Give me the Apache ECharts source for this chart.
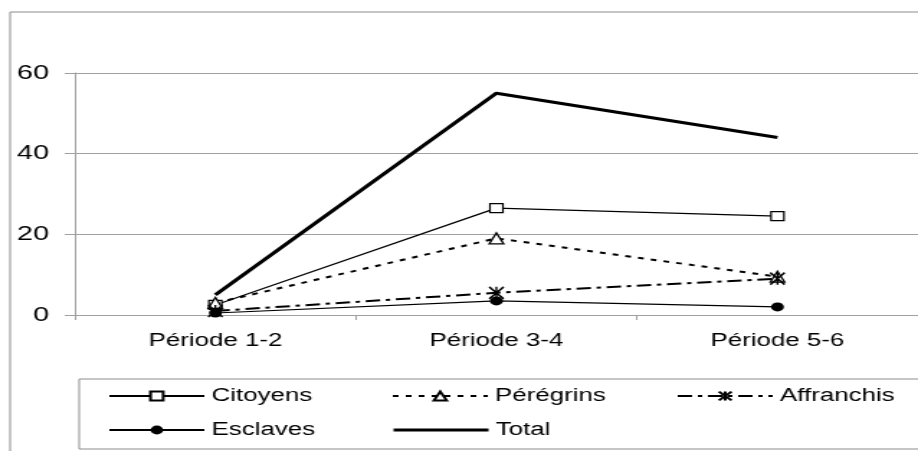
<!DOCTYPE html>
<html>
<head>
<meta charset="utf-8">
<script src="https://cdn.jsdelivr.net/npm/echarts@6/dist/echarts.min.js"></script>
<style>
html,body{margin:0;padding:0;background:#fff;overflow:hidden;}
#wrap{width:918px;height:451px;overflow:hidden;position:relative;}
#chart{width:638px;height:451px;transform:scaleX(1.4389);transform-origin:0 0;position:absolute;left:0;top:0;}
</style>
</head>
<body>
<div id="wrap"><div id="chart"></div></div>
<script>
const categories = ['Période 1-2', 'Période 3-4', 'Période 5-6'];
const citoyens   = [2.5, 26.5, 24.5];
const peregrins  = [3, 19, 9.5];
const affranchis = [1, 5.5, 9];
const esclaves   = [0.5, 3.5, 2];
const total      = [5, 55, 44];
const yTicks = { min: 0, max: 60, interval: 20 };

const FONT = "'Liberation Sans', Arial, sans-serif";
const GRAY = '#a0a0a0';
const asterisk = 'path://M0,0L10,12M10,0L0,12M5,0L5,12';

const chart = echarts.init(document.getElementById('chart'), null, {renderer: 'canvas'});

function legendAt(item, left, top) {
  return {
    data: [item], left: left, top: top, padding: 0,
    itemWidth: 66, itemHeight: 11, itemGap: 0,
    textStyle: {fontSize: 18, fontFamily: FONT, color: '#000'},
    selectedMode: false
  };
}

chart.setOption({
  animation: false,
  backgroundColor: '#fff',
  graphic: [
    {type: 'rect', shape: {x: 7, y: 12, width: 700, height: 500}, style: {fill: 'none', stroke: '#8c8c8c', lineWidth: 1}, z: -1},
    {type: 'rect', shape: {x: 55, y: 379, width: 700, height: 70}, style: {fill: 'none', stroke: '#8c8c8c', lineWidth: 1}, z: -1}
  ],
  grid: {left: 52, right: -8, top: 73, bottom: 136, containLabel: false},
  xAxis: {
    type: 'category', data: categories, boundaryGap: true,
    axisLine: {lineStyle: {color: GRAY, width: 1}},
    axisTick: {show: true, length: 5, lineStyle: {color: GRAY}},
    axisLabel: {fontSize: 18, fontFamily: FONT, color: '#000', margin: 17}
  },
  yAxis: {
    type: 'value', min: yTicks.min, max: yTicks.max, interval: yTicks.interval,
    axisLine: {show: true, lineStyle: {color: GRAY, width: 1}},
    axisTick: {show: true, length: 7, lineStyle: {color: GRAY}},
    axisLabel: {fontSize: 20, fontFamily: FONT, color: '#000', margin: 18},
    splitLine: {show: true, lineStyle: {color: GRAY, width: 1}}
  },
  legend: [
    legendAt('Citoyens', 75, 387),
    legendAt('Pérégrins', 272, 387),
    legendAt('Affranchis', 470, 387),
    legendAt('Esclaves', 75, 421),
    legendAt({name: 'Total', itemStyle: {opacity: 0}, lineStyle: {width: 3, color: '#000'}}, 272, 421)
  ],
  series: [
    {name: 'Citoyens', type: 'line', data: citoyens, symbol: 'rect', symbolSize: [9, 9],
     lineStyle: {color: '#000', width: 1.2, type: 'solid'},
     itemStyle: {color: '#fff', borderColor: '#000', borderWidth: 1.2}, z: 3},
    {name: 'Pérégrins', type: 'line', data: peregrins, symbol: 'triangle', symbolSize: [10, 11],
     lineStyle: {color: '#000', width: 2, type: [4, 5]},
     itemStyle: {color: '#fff', borderColor: '#000', borderWidth: 1.3}, z: 3},
    {name: 'Affranchis', type: 'line', data: affranchis, symbol: asterisk, symbolSize: [10, 12],
     lineStyle: {color: '#000', width: 2, type: [10, 4, 3, 4]},
     itemStyle: {color: '#000', borderColor: '#000', borderWidth: 1.5}, z: 3},
    {name: 'Esclaves', type: 'line', data: esclaves, symbol: 'circle', symbolSize: [9, 9],
     lineStyle: {color: '#000', width: 1.2, type: 'solid'},
     itemStyle: {color: '#000', borderColor: '#000', borderWidth: 0}, z: 3},
    {name: 'Total', type: 'line', data: total, symbol: 'none',
     lineStyle: {color: '#000', width: 3, type: 'solid'},
     itemStyle: {color: '#000'}, z: 2}
  ]
});
</script>
</body>
</html>
